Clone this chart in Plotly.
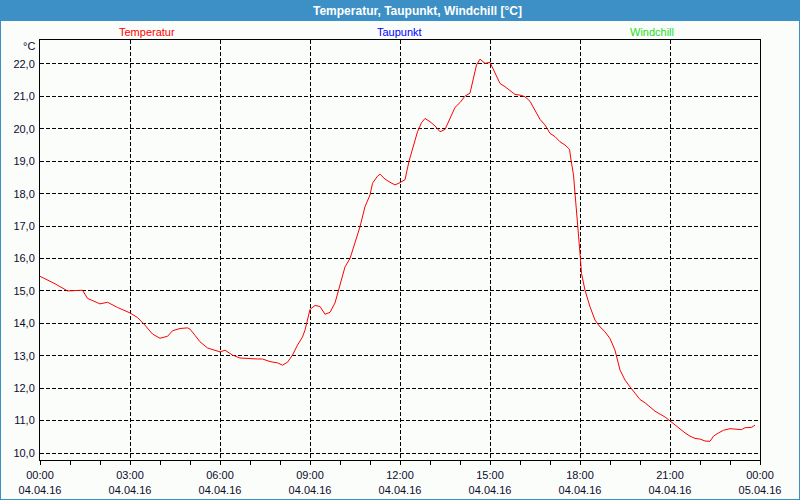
import pandas as pd
import plotly.graph_objects as go

# ---- data ----
times = ["00:00","00:30","00:55","01:25","01:35","02:00","02:15","02:35","03:00","03:15",
         "03:30","03:45","04:00","04:15","04:25","04:40","04:55","05:00","05:10","05:20",
         "05:35","05:45","06:00","06:10","06:25","06:40","07:00","07:15","07:25","07:40",
         "07:55","08:05","08:15","08:25","08:35","08:45","08:50","09:00","09:10","09:20",
         "09:30","09:40","09:50","10:00","10:10","10:20","10:30","10:40","10:50","11:00",
         "11:05","11:15","11:20","11:30","11:40","11:50","12:00","12:10","12:18","12:25",
         "12:35","12:43","12:50","13:00","13:10","13:20","13:30","13:40","13:50","14:00",
         "14:10","14:20","14:27","14:33","14:40","14:50","15:00","15:10","15:20","15:30",
         "15:40","15:50","16:00","16:10","16:20","16:30","16:40","16:50","17:00","17:10",
         "17:20","17:30","17:39","17:42","17:47","17:50","17:53","17:57","18:00","18:03",
         "18:10","18:20","18:30","18:40","18:50","19:00","19:10","19:20","19:30","19:40",
         "19:50","20:00","20:10","20:20","20:30","20:40","20:50","21:00","21:10","21:20",
         "21:30","21:40","21:50","22:00","22:10","22:20","22:27","22:37","22:47","23:00",
         "23:13","23:23","23:30","23:43","23:50"]
temperatur = [15.45,15.22,15.00,15.02,14.77,14.60,14.65,14.49,14.32,14.18,
              13.94,13.67,13.54,13.60,13.77,13.84,13.86,13.82,13.63,13.43,
              13.24,13.20,13.12,13.17,13.02,12.93,12.90,12.90,12.90,12.82,
              12.78,12.71,12.80,13.02,13.33,13.58,13.79,14.43,14.55,14.52,
              14.28,14.34,14.63,15.23,15.74,16.00,16.47,16.98,17.60,17.96,
              18.32,18.54,18.60,18.45,18.35,18.27,18.34,18.43,19.00,19.40,
              19.91,20.19,20.32,20.22,20.09,19.91,19.98,20.32,20.66,20.81,
              21.01,21.10,21.56,21.97,22.15,22.02,22.05,21.71,21.40,21.30,
              21.18,21.06,21.04,20.99,20.85,20.58,20.29,20.12,19.86,19.76,
              19.60,19.50,19.37,19.04,18.58,18.01,17.50,16.88,16.16,15.54,
              15.02,14.51,14.10,13.89,13.74,13.53,13.17,12.56,12.25,12.04,
              11.84,11.65,11.55,11.42,11.29,11.20,11.11,10.99,10.86,10.73,
              10.62,10.52,10.45,10.43,10.37,10.36,10.52,10.62,10.70,10.75,
              10.72,10.72,10.78,10.79,10.86]
day = "2016-04-04"
x_tick_times = ["2016-04-04 00:00","2016-04-04 03:00","2016-04-04 06:00","2016-04-04 09:00",
                "2016-04-04 12:00","2016-04-04 15:00","2016-04-04 18:00","2016-04-04 21:00",
                "2016-04-05 00:00"]
x_tick_text = ["00:00<br>04.04.16","03:00<br>04.04.16","06:00<br>04.04.16","09:00<br>04.04.16",
               "12:00<br>04.04.16","15:00<br>04.04.16","18:00<br>04.04.16","21:00<br>04.04.16",
               "00:00<br>05.04.16"]
y_tick_vals = [10,11,12,13,14,15,16,17,18,19,20,21,22]
y_tick_text = ["10,0","11,0","12,0","13,0","14,0","15,0","16,0","17,0","18,0","19,0","20,0","21,0","22,0"]
series_names = ["Temperatur","Taupunkt","Windchill"]
series_colors = ["#ff0000","#0000ff","#22dd22"]
title_text = "Temperatur, Taupunkt, Windchill [°C]"

# ---- figure ----
W, H = 800, 500
L, R, T, B = 40, 40, 40, 40
PW, PH = W - L - R, H - T - B
def px(x):  # pixel -> paper x
    return (x - L) / PW
def py(y):  # pixel -> paper y
    return (H - B - y) / PH

BLUE = "#3c90c6"
BG = "#fbfdfb"
FONT = "Liberation Sans"
TXT = "#0c0c2c"

x = pd.to_datetime([f"{day} {t}" for t in times])

fig = go.Figure()
fig.add_trace(go.Scatter(x=x, y=temperatur, mode="lines",
                         line=dict(color=series_colors[0], width=1),
                         name=series_names[0], showlegend=False))

fig.update_layout(
    width=W, height=H,
    margin=dict(l=L, r=R, t=T, b=B, pad=0, autoexpand=False),
    paper_bgcolor=BG, plot_bgcolor=BG,
    showlegend=False,
    font=dict(family=FONT, size=11, color=TXT),
)
fig.update_xaxes(
    type="date", automargin=False,
    range=[x_tick_times[0], x_tick_times[-1]],
    tickmode="array", tickvals=x_tick_times, ticktext=x_tick_text,
    showgrid=True, gridcolor="black", gridwidth=1, griddash="4px,2px",
    showline=True, linecolor="black", linewidth=1, mirror=True,
    ticks="outside", ticklen=4, tickcolor="black",
    minor=dict(ticks="outside", ticklen=4, tickcolor="black", dtick=3600000,
               tick0="2016-04-04 00:00", showgrid=False),
    zeroline=False, tickfont=dict(family=FONT, size=11, color=TXT),
    ticklabelstandoff=1,
    fixedrange=True,
)
fig.update_yaxes(
    automargin=False,
    range=[9.784, 22.74],
    tickmode="array", tickvals=y_tick_vals, ticktext=y_tick_text,
    showgrid=True, gridcolor="black", gridwidth=1, griddash="4px,2px",
    showline=True, linecolor="black", linewidth=1, mirror=True,
    ticks="", zeroline=False, ticklabelstandoff=2,
    tickfont=dict(family=FONT, size=11, color=TXT),
    fixedrange=True,
)

shapes = []
# title bar
shapes.append(dict(type="rect", xref="paper", yref="paper",
                   x0=px(0), x1=px(W), y0=py(21), y1=py(0),
                   fillcolor=BLUE, line=dict(width=0), layer="above"))
# window frame (left, right, bottom)
for (x0, x1, y0, y1) in [(0, 1, 0, H), (W - 1, W, 0, H), (0, W, H - 1, H)]:
    shapes.append(dict(type="rect", xref="paper", yref="paper",
                       x0=px(x0), x1=px(x1), y0=py(y1), y1=py(y0),
                       fillcolor=BLUE, line=dict(width=0), layer="above"))
fig.update_layout(shapes=shapes)

ann = []
ann.append(dict(text=f"<b>{title_text}</b>", xref="paper", yref="paper",
                x=px(417), y=py(11), xanchor="center", yanchor="middle",
                showarrow=False, font=dict(family=FONT, size=12, color="white")))
for name, col, cx in zip(series_names, series_colors, [147, 399, 652]):
    ann.append(dict(text=name, xref="paper", yref="paper", x=px(cx), y=py(32),
                    xanchor="center", yanchor="middle", showarrow=False,
                    font=dict(family=FONT, size=11, color=col)))
ann.append(dict(text="°C", xref="paper", yref="paper", x=px(37), y=py(46),
                xanchor="right", yanchor="middle", showarrow=False,
                font=dict(family=FONT, size=11, color=TXT)))
fig.update_layout(annotations=ann)

fig.write_html("out.html")
